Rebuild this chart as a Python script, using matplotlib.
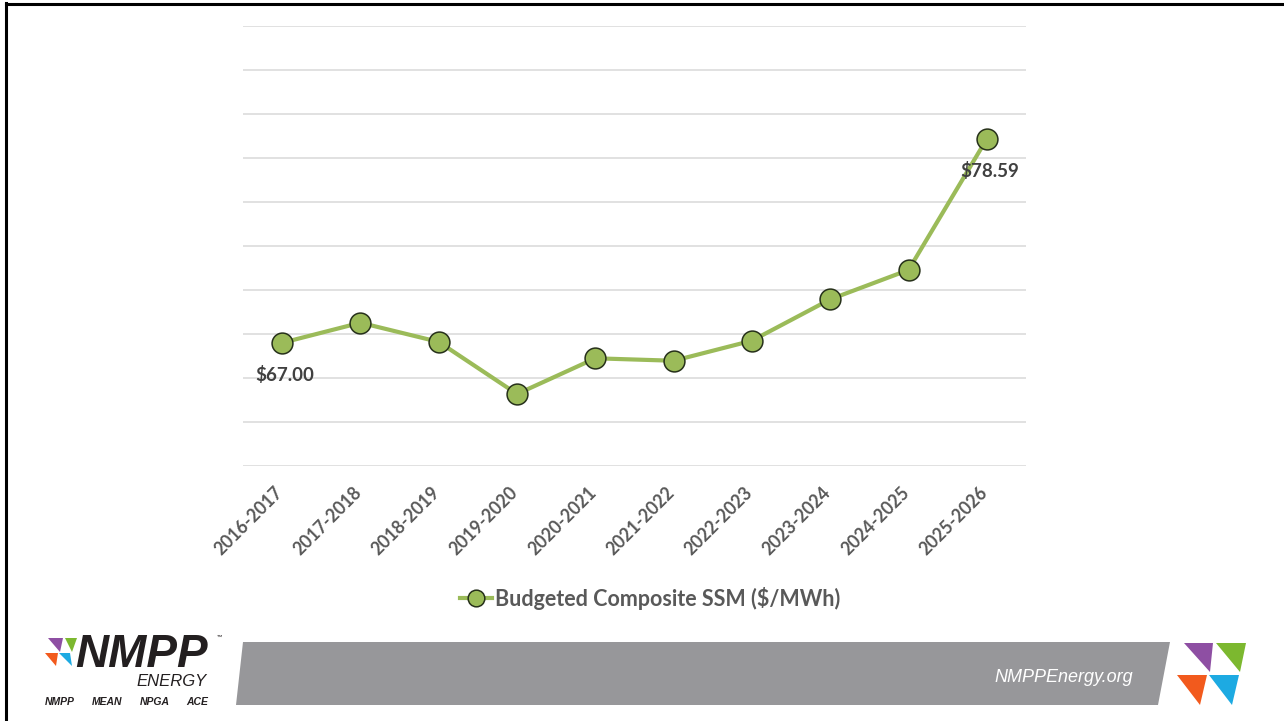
import matplotlib.pyplot as plt
from matplotlib.patches import Polygon
from matplotlib.lines import Line2D
from matplotlib.transforms import ScaledTranslation

# data
seasons = ['2016-2017', '2017-2018', '2018-2019', '2019-2020', '2020-2021',
           '2021-2022', '2022-2023', '2023-2024', '2024-2025', '2025-2026']
ssm = [67.00, 68.14, 67.05, 64.09, 66.12, 65.98, 67.12, 69.47, 71.14, 78.59]
labelled = {0: '$67.00', 9: '$78.59'}

W, H = 1284, 721
green = '#9BBB59'
txt = '#404040'

plt.rcParams['font.family'] = ['Lato', 'DejaVu Sans']

fig = plt.figure(figsize=(W / 100, H / 100), dpi=100)
fig.patch.set_facecolor('white')


def px(x, y):
    # pixel position (from top-left) -> figure fraction
    return x / W, 1 - y / H


ax = fig.add_axes([243 / W, 1 - 466 / H, (1026 - 243) / W, 440 / H])
x = list(range(len(seasons)))
ax.plot(x, ssm, color=green, lw=3.0, marker='o', ms=15, mfc=green,
        mec='#26301a', mew=1.1, zorder=3, label='Budgeted Composite SSM ($/MWh)')
for i, s in labelled.items():
    ax.annotate(s, (x[i], ssm[i]), xytext=(2, -23), textcoords='offset points',
                ha='center', va='center', fontsize=13.5, fontweight='bold', color=txt)

ax.set_xlim(-0.5, len(seasons) - 0.5)
ax.set_ylim(60, 85)
ax.set_yticks([60 + 2.5 * k for k in range(11)])
ax.yaxis.grid(True, color='#D9D9D9', lw=1.1)
ax.set_axisbelow(True)
ax.tick_params(axis='y', left=False, labelleft=False)
ax.tick_params(axis='x', length=0, pad=17)
ax.set_xticks(x)
ax.set_xticklabels(seasons, rotation=45, ha='right', va='center', rotation_mode='anchor',
                   fontsize=12.7, fontweight='bold', color='#595959')
shift = ScaledTranslation(-2 / 100, 0, fig.dpi_scale_trans)
for lbl in ax.get_xticklabels():
    lbl.set_transform(lbl.get_transform() + shift)
for sp in ax.spines.values():
    sp.set_visible(False)

leg = fig.legend(handles=[Line2D([], [], color=green, lw=3.0, marker='o', ms=12,
                                 mfc=green, mec='#26301a', mew=1.1)],
                 labels=['Budgeted Composite SSM ($/MWh)'],
                 loc='center', bbox_to_anchor=px(650, 598), frameon=False,
                 handlelength=1.5, handletextpad=0.1,
                 prop={'size': 15.5, 'weight': 'bold'})
for t in leg.get_texts():
    t.set_color('#595959')

# footer band
band = [(243, 642), (1170, 642), (1158, 705), (236, 705)]
fig.patches.append(Polygon([px(*p) for p in band], closed=True, fc='#97979A',
                           ec='none', transform=fig.transFigure))
fig.text(*px(1133, 677), 'NMPPEnergy.org', ha='right', va='center', color='white',
         fontsize=13, style='italic', family=['Liberation Sans'])

# right-hand triangles
tris = [([(1184, 643), (1213, 643), (1210, 672)], '#8E4FA3'),
        ([(1216, 643), (1246, 643), (1240, 672)], '#7CB82F'),
        ([(1177, 675), (1207, 675), (1200, 705)], '#F25A1D'),
        ([(1209, 675), (1239, 675), (1232, 705)], '#1DAAE2')]
for pts, c in tris:
    fig.patches.append(Polygon([px(*p) for p in pts], closed=True, fc=c, ec='none',
                               transform=fig.transFigure))

# left logo
small = [([(48, 638), (63, 638), (60, 652)], '#8E4FA3'),
         ([(65, 638), (77, 638), (72, 652)], '#7CB82F'),
         ([(45, 653), (58, 653), (56, 666)], '#F25A1D'),
         ([(59, 653), (70, 653), (72, 666)], '#1DAAE2')]
for pts, c in small:
    fig.patches.append(Polygon([px(*p) for p in pts], closed=True, fc=c, ec='none',
                               transform=fig.transFigure))
fig.text(*px(75, 667), 'NMPP', ha='left', va='baseline', fontsize=33, fontweight='black',
         style='italic', color='#231F20', family=['Liberation Sans'])
fig.text(*px(217, 637), '™', ha='left', va='center', fontsize=5, color='#231F20')
fig.text(*px(207, 686), 'ENERGY', ha='right', va='baseline', fontsize=12,
         style='italic', color='#231F20', family=['Liberation Sans'])
for s, xx in [('NMPP', 45), ('MEAN', 92), ('NPGA', 140), ('ACE', 186)]:
    fig.text(*px(xx, 702), s, ha='left', va='center', fontsize=7.5, fontweight='bold',
             style='italic', color='#231F20', family=['Liberation Sans'])

# slide border (top and left)
fig.add_artist(Line2D([6 / W, 6 / W], [0, 1 - 3 / H], color='black', lw=2.2,
                      transform=fig.transFigure))
fig.add_artist(Line2D([6 / W, 1], [1 - 4 / H, 1 - 4 / H], color='black', lw=2.2,
                      transform=fig.transFigure))

fig.savefig('out.png', dpi=100)
